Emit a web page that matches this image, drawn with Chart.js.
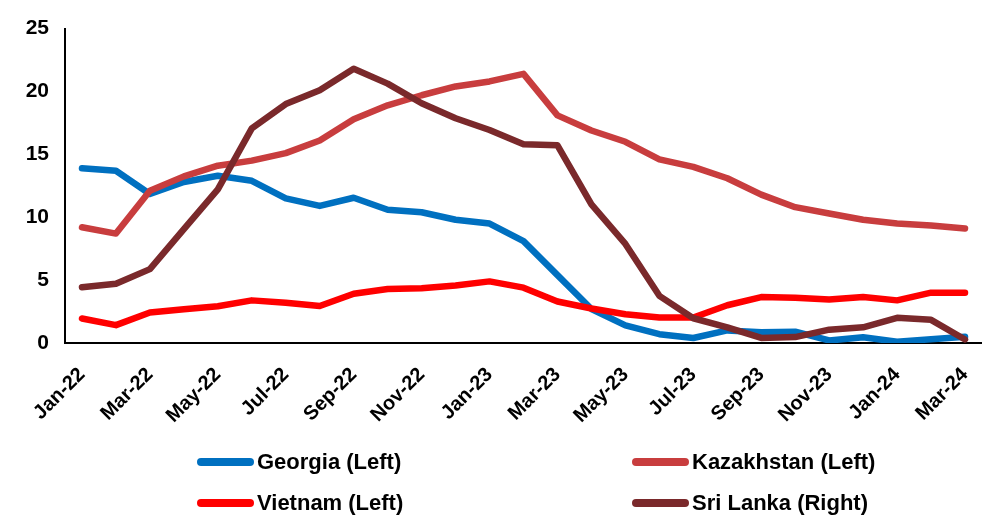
<!DOCTYPE html>
<html>
<head>
<meta charset="utf-8">
<script src="https://cdn.jsdelivr.net/npm/chart.js@4"></script>
<style>
  html, body { margin: 0; padding: 0; background: #fff; }
  #wrap { position: relative; width: 982px; height: 517px; }
  #legend { position: absolute; left: 0; top: 0; width: 982px; height: 517px; pointer-events: none;
            font-family: 'Liberation Sans', Arial, sans-serif; font-weight: bold; font-size: 22px; color: #000; }
  .item { position: absolute; display: flex; align-items: center; height: 30px; }
  .swatch { width: 57px; height: 8px; border-radius: 4px; margin-right: 3px; }
</style>
</head>
<body>
<div id="wrap">
  <canvas id="chart" width="982" height="517"></canvas>
  <div id="legend"></div>
</div>
<script>
const months = ['Jan-22','Feb-22','Mar-22','Apr-22','May-22','Jun-22','Jul-22','Aug-22','Sep-22','Oct-22','Nov-22','Dec-22',
                'Jan-23','Feb-23','Mar-23','Apr-23','May-23','Jun-23','Jul-23','Aug-23','Sep-23','Oct-23','Nov-23','Dec-23',
                'Jan-24','Feb-24','Mar-24'];

// left axis, %
const georgia    = [13.9,13.7,11.85,12.8,13.3,12.9,11.5,10.9,11.55,10.6,10.4,9.8,9.5,8.1,5.4,2.7,1.4,0.7,0.4,1.0,0.85,0.9,0.2,0.45,0.1,0.3,0.5];
const kazakhstan = [9.2,8.7,12.1,13.25,14.1,14.5,15.1,16.1,17.8,18.9,19.7,20.4,20.8,21.4,18.1,16.9,16.0,14.6,14.0,13.1,11.8,10.8,10.3,9.8,9.5,9.35,9.1];
const vietnam    = [1.95,1.42,2.42,2.68,2.92,3.39,3.2,2.94,3.92,4.3,4.36,4.57,4.9,4.4,3.3,2.74,2.29,2.03,2.03,3.0,3.65,3.6,3.45,3.65,3.39,4.0,4.0];
// right axis (hidden, 0-80), %
const sriLanka   = [14.2,15.1,18.8,29.0,39.1,54.6,60.8,64.3,69.8,66.0,61.0,57.2,54.2,50.6,50.3,35.3,25.2,12.0,6.3,4.0,1.3,1.5,3.4,4.0,6.4,5.9,0.9];

const leftTicks = [0, 5, 10, 15, 20, 25];

const series = [
  { label: 'Georgia (Left)',    data: georgia,    color: '#0070C0', axis: 'y',  order: 4 },
  { label: 'Kazakhstan (Left)', data: kazakhstan, color: '#C83D3E', axis: 'y',  order: 3 },
  { label: 'Vietnam (Left)',    data: vietnam,    color: '#FF0000', axis: 'y',  order: 2 },
  { label: 'Sri Lanka (Right)', data: sriLanka,   color: '#7A292B', axis: 'y1', order: 1 }
];

const font = { family: "'Liberation Sans', Arial, sans-serif", weight: 'bold' };

new Chart(document.getElementById('chart'), {
  type: 'line',
  data: {
    labels: months,
    datasets: series.map(s => ({
      label: s.label,
      data: s.data,
      yAxisID: s.axis,
      order: s.order,
      borderColor: s.color,
      backgroundColor: s.color,
      borderWidth: 6.5,
      borderCapStyle: 'round',
      borderJoinStyle: 'round',
      pointRadius: 0,
      tension: 0,
      fill: false
    }))
  },
  options: {
    responsive: false,
    animation: false,
    layout: { padding: { top: 26, right: 0, bottom: 74, left: 0 } },
    plugins: { legend: { display: false }, tooltip: { enabled: false } },
    scales: {
      x: {
        offset: true,
        grid: { display: false, drawTicks: false },
        border: { display: true, color: '#000', width: 2 },
        ticks: {
          autoSkip: false,
          minRotation: 45,
          maxRotation: 45,
          padding: 20,
          color: '#000',
          font: { ...font, size: 20 },
          callback: (v, i) => i % 2 === 0 ? months[i] : ''
        },
        afterFit: s => { s.height = 100; s.paddingLeft = 0; s.paddingRight = 0; }
      },
      y: {
        min: 0,
        max: 25,
        afterBuildTicks: s => { s.ticks = leftTicks.map(v => ({ value: v })); },
        grid: { display: false, drawTicks: false },
        border: { display: true, color: '#000', width: 2 },
        ticks: { padding: 16, color: '#000', font: { ...font, size: 21 } },
        afterFit: s => { s.width = 65; }
      },
      y1: { display: false, min: 0, max: 80, position: 'right' }
    }
  }
});

// two-column legend, as in the source figure
const legendPos = [[197, 447], [632, 447], [197, 488], [632, 488]];
const legend = document.getElementById('legend');
series.forEach((s, i) => {
  const el = document.createElement('div');
  el.className = 'item';
  el.style.left = legendPos[i][0] + 'px';
  el.style.top = legendPos[i][1] + 'px';
  el.innerHTML = `<span class="swatch" style="background:${s.color}"></span><span>${s.label}</span>`;
  legend.appendChild(el);
});
</script>
</body>
</html>
